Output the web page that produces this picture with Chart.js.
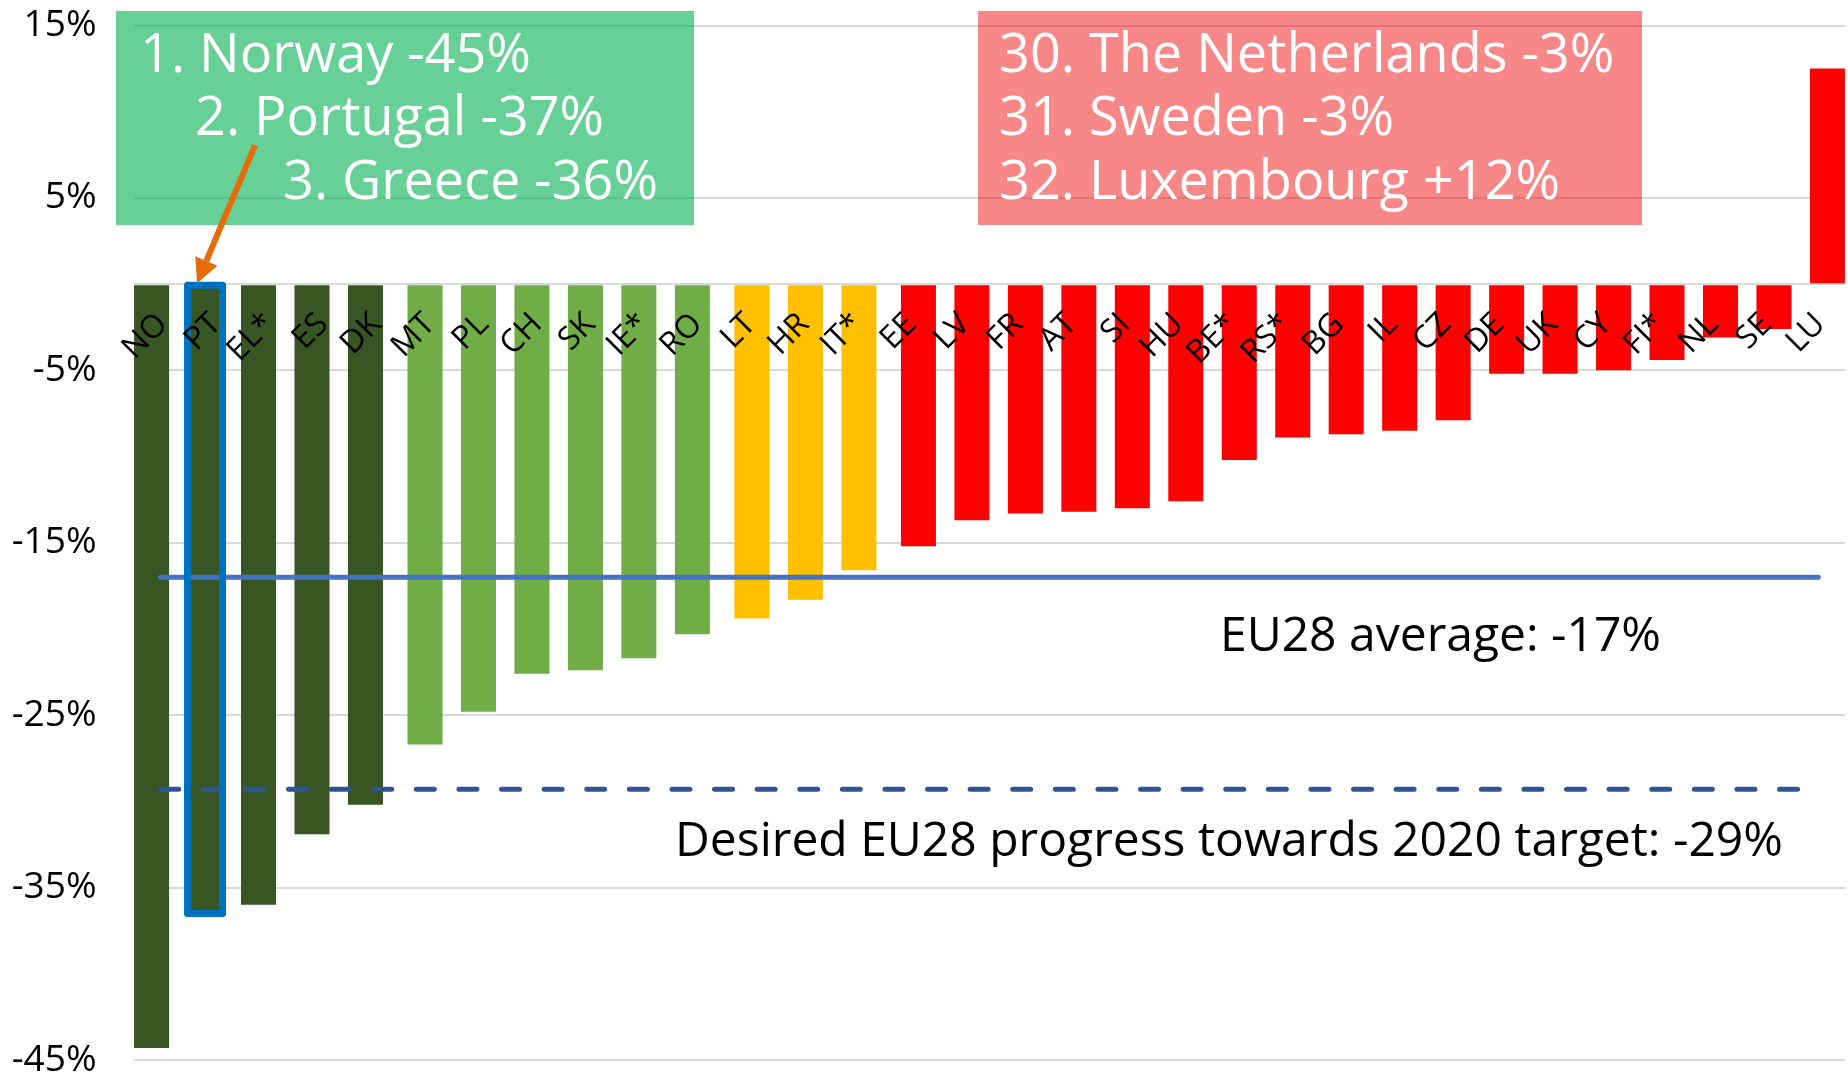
<!DOCTYPE html>
<html>
<head>
<meta charset="utf-8">
<script src="https://cdn.jsdelivr.net/npm/chart.js@4.4.0/dist/chart.umd.min.js"></script>
<style>
  html, body { margin: 0; padding: 0; background: #fff; }
  #wrap { width: 1848px; height: 1076px; position: relative; }
</style>
</head>
<body>
<div id="wrap"><canvas id="changeChart"></canvas></div>
<script>
// Countries in ranking order
const categories = ['NO', 'PT', 'EL*', 'ES', 'DK', 'MT', 'PL', 'CH', 'SK', 'IE*', 'RO',
    'LT', 'HR', 'IT*', 'EE', 'LV', 'FR', 'AT', 'SI', 'HU', 'BE*', 'RS*', 'BG', 'IL',
    'CZ', 'DE', 'UK', 'CY', 'FI*', 'NL', 'SE', 'LU'];

// Change in %
const changes = [-44.3, -36.5, -36.0, -31.9, -30.2, -26.7, -24.8, -22.6, -22.4, -21.7, -20.3,
    -19.4, -18.3, -16.6, -15.2, -13.7, -13.3, -13.2, -13.0, -12.6, -10.2, -8.9, -8.7, -8.5,
    -7.9, -5.2, -5.2, -5.0, -4.4, -3.1, -2.6, 12.5];

// Colour group of each country (0 = dark green, 1 = green, 2 = yellow, 3 = red)
const groups = [0, 0, 0, 0, 0, 1, 1, 1, 1, 1, 1, 2, 2, 2,
    3, 3, 3, 3, 3, 3, 3, 3, 3, 3, 3, 3, 3, 3, 3, 3, 3, 3];
const groupColors = ['#375623', '#70AD47', '#FFC000', '#FF0000'];

// Reference lines
const euAverage = -17;
const euTarget = -29.3;

// y axis
const yMin = -45;
const yMax = 15;
const yStep = 10;

// Text boxes
const topList = ['1. Norway -45%', '2. Portugal -37%', '3. Greece -36%'];
const bottomList = ['30. The Netherlands -3%', '31. Sweden -3%', '32. Luxembourg +12%'];
const averageLabel = 'EU28 average: -17%';
const targetLabel = 'Desired EU28 progress towards 2020 target: -29%';

const FONT = "'Open Sans', 'DejaVu Sans', sans-serif";
Chart.defaults.font.family = FONT;

// one bar dataset per colour group, nulls keep the slots aligned
const barSets = groupColors.map(function(color, g) {
    return {
        type: 'bar',
        data: changes.map(function(v, i) { return groups[i] === g ? v : null; }),
        backgroundColor: color,
        borderWidth: 0,
        categoryPercentage: 0.4564,
        barPercentage: 5.74,
        order: 1
    };
});

const first = categories[0];
const last = categories[categories.length - 1];

const lineSets = [
    {
        type: 'line',
        data: [{ x: first, y: euAverage }, { x: last, y: euAverage }],
        borderColor: '#4472C4',
        borderWidth: 5,
        borderCapStyle: 'round',
        pointRadius: 0,
        order: 0
    },
    {
        type: 'line',
        data: [{ x: first, y: euTarget }, { x: last, y: euTarget }],
        borderColor: '#2F5597',
        borderWidth: 5,
        borderDash: [18, 24.6],
        borderCapStyle: 'round',
        pointRadius: 0,
        order: 0
    }
];

// Outline, arrow, boxes and rotated country labels
const overlayPlugin = {
    id: 'overlay',
    afterDatasetsDraw(chart) {
        const ctx = chart.ctx;
        const xs = chart.scales.x;
        const ys = chart.scales.y;
        const zeroY = ys.getPixelForValue(0);

        // blue frame round Portugal
        const bar = chart.getDatasetMeta(0).data[1];
        const top = Math.min(bar.y, bar.base);
        const h = Math.abs(bar.base - bar.y);
        ctx.save();
        ctx.strokeStyle = '#0070C0';
        ctx.lineWidth = 7;
        ctx.lineJoin = 'round';
        ctx.strokeRect(bar.x - bar.width / 2, top, bar.width, h);
        ctx.restore();

        // boxes
        ctx.save();
        ctx.fillStyle = 'rgba(0, 176, 80, 0.6)';
        ctx.fillRect(116, 11, 578, 214);
        ctx.fillStyle = 'rgba(240, 0, 0, 0.47)';
        ctx.fillRect(978, 11, 664, 214);

        ctx.fillStyle = '#fff';
        ctx.font = '54px ' + FONT;
        ctx.textAlign = 'left';
        ctx.textBaseline = 'alphabetic';
        const baselines = [72, 135, 199];
        const topX = [140, 195, 283];
        topList.forEach(function(t, i) { ctx.fillText(t, topX[i], baselines[i]); });
        bottomList.forEach(function(t, i) { ctx.fillText(t, 999, baselines[i]); });

        ctx.fillStyle = '#000';
        ctx.font = '48px ' + FONT;
        ctx.fillText(averageLabel, 1220, 651);
        ctx.fillText(targetLabel, 675, 856);
        ctx.restore();

        // orange arrow
        const tipX = bar.x - 8;
        const tipY = zeroY - 1;
        const tailX = tipX + 58;
        const tailY = tipY - 138;
        const ang = Math.atan2(tipY - tailY, tipX - tailX);
        const headLen = 24;
        const headHalf = 12;
        const bx = tipX - headLen * Math.cos(ang);
        const by = tipY - headLen * Math.sin(ang);
        ctx.save();
        ctx.strokeStyle = '#E46C0A';
        ctx.fillStyle = '#E46C0A';
        ctx.lineWidth = 6;
        ctx.beginPath();
        ctx.moveTo(tailX, tailY);
        ctx.lineTo(bx, by);
        ctx.stroke();
        ctx.beginPath();
        ctx.moveTo(tipX, tipY);
        ctx.lineTo(bx + headHalf * Math.sin(ang), by - headHalf * Math.cos(ang));
        ctx.lineTo(bx - headHalf * Math.sin(ang), by + headHalf * Math.cos(ang));
        ctx.closePath();
        ctx.fill();
        ctx.restore();

        // country labels, rotated under the zero line
        ctx.save();
        ctx.fillStyle = '#000';
        ctx.font = '32px ' + FONT;
        ctx.textAlign = 'right';
        ctx.textBaseline = 'middle';
        categories.forEach(function(c, i) {
            const px = xs.getPixelForValue(i);
            ctx.save();
            ctx.translate(px + 2, zeroY + 35);
            ctx.rotate(-Math.PI / 4);
            ctx.fillText(c, 0, 0);
            ctx.restore();
        });
        ctx.restore();
    }
};

new Chart(document.getElementById('changeChart'), {
    data: {
        labels: categories,
        datasets: barSets.concat(lineSets)
    },
    options: {
        responsive: true,
        maintainAspectRatio: false,
        animation: false,
        layout: {
            autoPadding: false,
            padding: { left: 0, right: 3, top: 25.5, bottom: 16 }
        },
        plugins: {
            legend: { display: false },
            tooltip: { enabled: false }
        },
        scales: {
            x: {
                type: 'category',
                display: false,
                offset: true
            },
            y: {
                min: yMin,
                max: yMax,
                afterFit: function(scale) {
                    scale.width = 134;
                    scale.paddingTop = 0;
                    scale.paddingBottom = 0;
                },
                afterBuildTicks: function(scale) {
                    // Excel draws the zero line like a gridline
                    scale.ticks.push({ value: 0 });
                    scale.ticks.sort(function(a, b) { return a.value - b.value; });
                },
                border: { display: false },
                grid: {
                    color: '#D9D9D9',
                    lineWidth: 2,
                    drawTicks: false
                },
                ticks: {
                    stepSize: yStep,
                    autoSkip: false,
                    padding: 37.5,
                    color: '#000',
                    font: { size: 37, lineHeight: 0.8 },
                    callback: function(value) {
                        return value === 0 ? '' : value + '%';
                    }
                }
            }
        }
    },
    plugins: [overlayPlugin]
});
</script>
</body>
</html>
